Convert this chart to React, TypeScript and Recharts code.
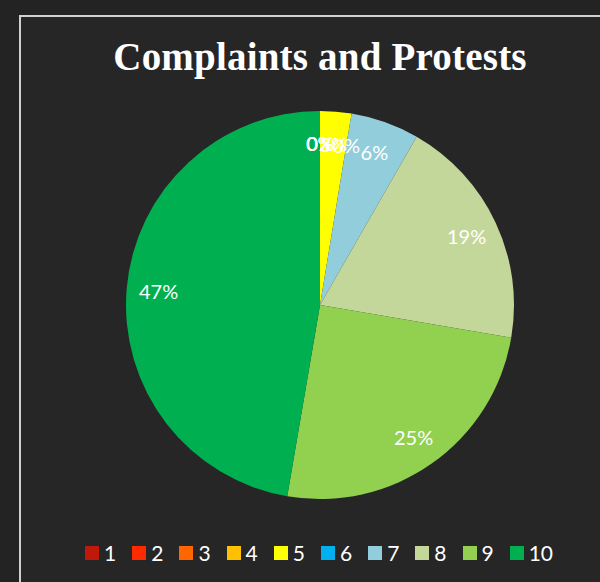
import React from "react";
import { PieChart, Pie, Cell, Legend } from "recharts";

const categories = ["1", "2", "3", "4", "5", "6", "7", "8", "9", "10"];
const values = [0, 0, 0, 0, 2.6, 0, 5.7, 19.4, 25.0, 47.3];
const colors = [
  "#C0180A",
  "#FF2A00",
  "#FF6600",
  "#FFC000",
  "#FFFF00",
  "#00B0F0",
  "#92CDDC",
  "#C4D79B",
  "#92D050",
  "#00B050",
];
const title = "Complaints and Protests";

const data = categories.map((c, i) => ({ name: c, value: values[i] }));

const RAD = Math.PI / 180;

const renderLabel = (props: any) => {
  const { cx, cy, midAngle, outerRadius, percent } = props;
  const r = outerRadius * 0.835;
  const x = cx + r * Math.cos(-midAngle * RAD);
  const y = cy + r * Math.sin(-midAngle * RAD);
  return (
    <text
      x={x}
      y={y}
      fill="#FFFFFF"
      textAnchor="middle"
      dominantBaseline="central"
      fontFamily="Lato, 'Open Sans', sans-serif"
      fontSize={20}
    >
      {Math.round(percent * 100) + "%"}
    </text>
  );
};

const LegendContent = () => (
  <div
    style={{
      display: "flex",
      alignItems: "center",
      fontFamily: "Lato, 'Open Sans', sans-serif",
      fontSize: 21,
      color: "#FFFFFF",
      lineHeight: "20px",
    }}
  >
    {categories.map((c, i) => (
      <div key={c} style={{ display: "flex", alignItems: "center", marginRight: 16 }}>
        <div style={{ width: 14, height: 14, background: colors[i], marginRight: 5 }} />
        <span>{c}</span>
      </div>
    ))}
  </div>
);

export default function App() {
  return (
    <div
      style={{
        position: "fixed",
        left: 0,
        top: 0,
        width: 600,
        height: 582,
        background: "#232323",
        overflow: "hidden",
      }}
    >
      <div
        style={{
          position: "absolute",
          left: 19,
          top: 15,
          width: 600,
          height: 600,
          background: "#262626",
          borderLeft: "2px solid #D0D0D0",
          borderTop: "2px solid #D0D0D0",
        }}
      />
      <div
        style={{
          position: "absolute",
          left: 0,
          top: 35,
          width: 640,
          textAlign: "center",
          fontFamily: "'Liberation Serif', 'DejaVu Serif', serif",
          fontWeight: "bold",
          fontSize: 39,
          letterSpacing: 0.2,
          color: "#FFFFFF",
          lineHeight: "44px",
        }}
      >
        {title}
      </div>
      <div style={{ position: "absolute", left: 0, top: 0 }}>
        <PieChart width={600} height={582} margin={{ top: 0, right: 0, bottom: 0, left: 0 }}>
          <Pie
            data={data}
            dataKey="value"
            nameKey="name"
            cx={320}
            cy={305}
            outerRadius={194}
            startAngle={90}
            endAngle={-270}
            stroke="none"
            label={renderLabel}
            labelLine={false}
            isAnimationActive={false}
          >
            {data.map((d, i) => (
              <Cell key={d.name} fill={colors[i]} />
            ))}
          </Pie>
          <Legend
            content={<LegendContent />}
            wrapperStyle={{ position: "absolute", left: 85, top: 543, width: 515, height: 20 }}
          />
        </PieChart>
      </div>
    </div>
  );
}
